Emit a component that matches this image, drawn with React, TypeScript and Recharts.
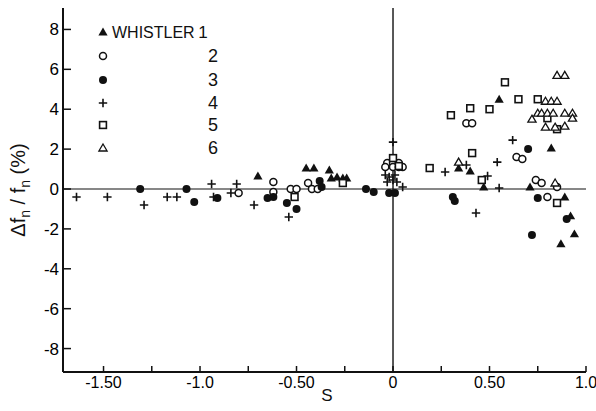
import React from 'react';
import { ScatterChart, Scatter, XAxis, YAxis, ReferenceLine, Legend } from 'recharts';

// Whistler 1 (filled triangles)
const whistler1 = [
  { x: -0.70, y: 0.65 }, { x: -0.45, y: 1.05 }, { x: -0.41, y: 1.05 }, { x: -0.33, y: 0.95 },
  { x: -0.32, y: 0.55 }, { x: -0.29, y: 0.6 }, { x: -0.26, y: 0.55 }, { x: -0.24, y: 0.55 },
  { x: 0.55, y: 4.5 }, { x: 0.34, y: 1.05 }, { x: 0.40, y: 0.9 }, { x: 0.47, y: 0.1 },
  { x: 0.71, y: 0.1 }, { x: 0.82, y: 2.05 }, { x: 0.89, y: -0.4 }, { x: 0.92, y: -1.35 },
  { x: 0.87, y: -2.75 }, { x: 0.94, y: -2.25 },
];
// Whistler 2 (open circles)
const whistler2 = [
  { x: -0.80, y: -0.2 }, { x: -0.62, y: 0.35 }, { x: -0.62, y: -0.15 }, { x: -0.53, y: 0 },
  { x: -0.50, y: 0 }, { x: -0.44, y: 0.3 }, { x: -0.42, y: 0 }, { x: -0.39, y: 0 },
  { x: -0.03, y: 1.3 }, { x: 0.0, y: 1.3 }, { x: 0.03, y: 1.3 }, { x: -0.04, y: 1.1 },
  { x: 0.0, y: 1.1 }, { x: 0.03, y: 1.1 }, { x: 0.05, y: 1.1 }, { x: 0.38, y: 3.3 },
  { x: 0.41, y: 3.3 }, { x: 0.64, y: 1.6 }, { x: 0.67, y: 1.5 }, { x: 0.74, y: 0.45 },
  { x: 0.77, y: 0.3 }, { x: 0.80, y: -0.4 }, { x: 0.85, y: 0.1 },
];
// Whistler 3 (filled circles)
const whistler3 = [
  { x: -1.31, y: 0 }, { x: -1.07, y: 0 }, { x: -1.03, y: -0.65 }, { x: -0.91, y: -0.45 },
  { x: -0.65, y: -0.45 }, { x: -0.62, y: -0.4 }, { x: -0.55, y: -0.7 }, { x: -0.50, y: -1.0 },
  { x: -0.38, y: 0.4 }, { x: -0.37, y: 0.1 }, { x: -0.14, y: 0 }, { x: -0.10, y: -0.15 },
  { x: -0.02, y: -0.2 }, { x: 0.01, y: -0.2 }, { x: 0.31, y: -0.4 }, { x: 0.32, y: -0.6 },
  { x: 0.70, y: 2.0 }, { x: 0.75, y: -0.45 }, { x: 0.90, y: -1.5 }, { x: 0.72, y: -2.3 },
];
// Whistler 4 (plus)
const whistler4 = [
  { x: -1.64, y: -0.4 }, { x: -1.48, y: -0.4 }, { x: -1.29, y: -0.8 }, { x: -1.17, y: -0.4 },
  { x: -1.12, y: -0.4 }, { x: -0.94, y: 0.25 }, { x: -0.93, y: -0.4 }, { x: -0.84, y: -0.2 },
  { x: -0.81, y: 0.25 }, { x: -0.72, y: -0.8 }, { x: -0.54, y: -1.4 }, { x: 0.0, y: 2.35 },
  { x: -0.04, y: 0.7 }, { x: -0.02, y: 0.6 }, { x: 0.01, y: 0.7 }, { x: -0.03, y: 0.35 },
  { x: 0.0, y: 0.45 }, { x: 0.02, y: 0.35 }, { x: 0.05, y: 0.1 }, { x: 0.27, y: 0.85 },
  { x: 0.38, y: 1.2 }, { x: 0.49, y: 0.65 }, { x: 0.55, y: 0.05 }, { x: 0.54, y: 1.35 },
  { x: 0.43, y: -1.2 }, { x: 0.62, y: 2.45 },
];
// Whistler 5 (open squares)
const whistler5 = [
  { x: -0.51, y: -0.4 }, { x: -0.26, y: 0.3 }, { x: 0.0, y: 1.55 }, { x: 0.03, y: 1.15 },
  { x: 0.19, y: 1.05 }, { x: 0.30, y: 3.7 }, { x: 0.40, y: 4.05 }, { x: 0.50, y: 4.0 },
  { x: 0.58, y: 5.35 }, { x: 0.65, y: 4.5 }, { x: 0.75, y: 4.5 }, { x: 0.80, y: 3.55 },
  { x: 0.85, y: 3.0 }, { x: 0.41, y: 1.8 }, { x: 0.46, y: 0.45 }, { x: 0.85, y: -0.7 },
];
// Whistler 6 (open triangles)
const whistler6 = [
  { x: 0.34, y: 1.35 }, { x: 0.79, y: 4.4 }, { x: 0.82, y: 4.4 }, { x: 0.85, y: 4.4 },
  { x: 0.85, y: 5.7 }, { x: 0.89, y: 5.7 }, { x: 0.75, y: 3.8 }, { x: 0.77, y: 3.8 },
  { x: 0.80, y: 3.8 }, { x: 0.83, y: 3.8 }, { x: 0.72, y: 3.5 }, { x: 0.89, y: 3.8 },
  { x: 0.93, y: 3.8 }, { x: 0.93, y: 3.55 }, { x: 0.79, y: 3.1 }, { x: 0.84, y: 3.1 },
  { x: 0.89, y: 3.15 }, { x: 0.84, y: 0.3 },
];

const xTicks = [-1.5, -1.25, -1, -0.75, -0.5, -0.25, 0, 0.25, 0.5, 0.75, 1.0];
const xTickLabels: Record<string, string> = {
  '-1.5': '-1.50', '-1': '-1.0', '-0.5': '-0.50', '0': '0', '0.5': '0.50', '1': '1.0',
};
const yTicks = [-8, -6, -4, -2, 0, 2, 4, 6, 8];

const legendNames = ['1', '2', '3', '4', '5', '6'];

const FONT = '"Liberation Sans", Arial, Helvetica, sans-serif';
const INK = '#111';

const PR = 586;
const PT = 8;
const PB = 372;
const PL = 63;

const TriFilled = (p: any) => {
  const { cx, cy } = p;
  if (cx == null || cy == null) return <g />;
  return <path d={`M${cx},${cy - 4.5} L${cx + 4.6},${cy + 3.4} L${cx - 4.6},${cy + 3.4} Z`} fill={INK} />;
};
const TriOpen = (p: any) => {
  const { cx, cy } = p;
  if (cx == null || cy == null) return <g />;
  return <path d={`M${cx},${cy - 4} L${cx + 4.1},${cy + 3} L${cx - 4.1},${cy + 3} Z`} fill="#fff" stroke={INK} strokeWidth={1.3} />;
};
const CircOpen = (p: any) => {
  const { cx, cy } = p;
  if (cx == null || cy == null) return <g />;
  return <circle cx={cx} cy={cy} r={3.5} fill="#fff" stroke={INK} strokeWidth={1.5} />;
};
const CircFilled = (p: any) => {
  const { cx, cy } = p;
  if (cx == null || cy == null) return <g />;
  return <circle cx={cx} cy={cy} r={4} fill={INK} />;
};
const Plus = (p: any) => {
  const { cx, cy } = p;
  if (cx == null || cy == null) return <g />;
  return <path d={`M${cx - 4.2},${cy} H${cx + 4.2} M${cx},${cy - 4.2} V${cy + 4.2}`} stroke={INK} strokeWidth={1.6} fill="none" />;
};
const SquareOpen = (p: any) => {
  const { cx, cy } = p;
  if (cx == null || cy == null) return <g />;
  return <rect x={cx - 3.4} y={cy - 3.4} width={6.8} height={6.8} fill="#fff" stroke={INK} strokeWidth={1.6} />;
};

const shapes = [TriFilled, CircOpen, CircFilled, Plus, SquareOpen, TriOpen];

const renderBottomTick = (p: any) => {
  const { x, payload } = p;
  const lab = xTickLabels[String(payload.value)];
  if (lab === undefined) return <g />;
  return (
    <text x={x} y={PB + 16} textAnchor="middle" fontFamily={FONT} fontSize={16} fill="#000">{lab}</text>
  );
};
const renderLeftTick = (p: any) => {
  const { y, payload } = p;
  return (
    <text x={PL - 4} y={y + 6} textAnchor="end" fontFamily={FONT} fontSize={17} fill="#000">{String(payload.value)}</text>
  );
};
const renderNoTick = () => <g />;

const YLabel = () => (
  <text
    x={25}
    y={190}
    transform="rotate(-90, 25, 190)"
    textAnchor="middle"
    fontFamily={FONT}
    fontSize={20}
    fill={INK}
  >
    <tspan>Δf</tspan>
    <tspan dy={5} fontSize={14}>n</tspan>
    <tspan dy={-5}> / f</tspan>
    <tspan dy={5} fontSize={14}>n</tspan>
    <tspan dy={-5}>  (%)</tspan>
  </text>
);
const XLabel = () => (
  <text x={327} y={401} textAnchor="middle" fontFamily={FONT} fontSize={17} fill={INK}>S</text>
);

const rowsY = [12, 36, 60, 83, 105, 128];
const LegendBox = () => (
  <svg width={150} height={140} style={{ overflow: 'visible', display: 'block' }}>
    {shapes.map((Sh, i) => (
      <g key={i}>
        <Sh cx={13} cy={rowsY[i]} />
        {i === 0 ? (
          <>
            <text x={22} y={rowsY[i] + 6} fontFamily={FONT} fontSize={16} fill={INK}>WHISTLER</text>
            <text x={113} y={rowsY[i] + 6} textAnchor="middle" fontFamily={FONT} fontSize={17} fill={INK}>1</text>
          </>
        ) : (
          <text x={123} y={rowsY[i] + 6} textAnchor="middle" fontFamily={FONT} fontSize={18} fill={INK}>{legendNames[i]}</text>
        )}
      </g>
    ))}
  </svg>
);

const series = [whistler1, whistler2, whistler3, whistler4, whistler5, whistler6];
const tickStroke = { stroke: INK, strokeWidth: 1.5 };
const axisStroke = { stroke: INK, strokeWidth: 2 };

export default function App() {
  return (
    <div style={{ position: 'absolute', left: 0, top: 0, width: 596, height: 411, background: '#fff' }}>
      <ScatterChart width={596} height={411} margin={{ top: PT, right: 596 - PR, bottom: 0, left: 0 }}>
        <XAxis
          xAxisId="b"
          type="number"
          dataKey="x"
          domain={[-1.71, 1.0]}
          allowDataOverflow
          ticks={xTicks}
          interval={0}
          height={411 - PB}
          orientation="bottom"
          axisLine={axisStroke}
          tickLine={tickStroke}
          tickSize={-6}
          tickMargin={10}
          tick={renderBottomTick}
          label={{ content: <XLabel /> } as any}
        />
        <XAxis
          xAxisId="t"
          type="number"
          dataKey="x"
          domain={[-1.71, 1.0]}
          allowDataOverflow
          ticks={xTicks}
          interval={0}
          height={0}
          orientation="top"
          axisLine={axisStroke}
          tickLine={tickStroke}
          tickSize={-5}
          tick={renderNoTick}
        />
        <YAxis
          yAxisId="l"
          type="number"
          dataKey="y"
          domain={[-9.175, 9.075]}
          allowDataOverflow
          ticks={yTicks}
          interval={0}
          width={PL}
          orientation="left"
          axisLine={axisStroke}
          tickLine={tickStroke}
          tickSize={-8}
          tickMargin={12}
          tick={renderLeftTick}
          label={{ content: <YLabel /> } as any}
        />
        <YAxis
          yAxisId="r"
          type="number"
          dataKey="y"
          domain={[-9.175, 9.075]}
          allowDataOverflow
          ticks={yTicks}
          interval={0}
          width={0}
          orientation="right"
          axisLine={axisStroke}
          tickLine={tickStroke}
          tickSize={-5}
          tick={renderNoTick}
        />
        <ReferenceLine xAxisId="b" yAxisId="l" y={0} stroke={INK} strokeWidth={1.2} />
        <ReferenceLine xAxisId="b" yAxisId="l" x={0} stroke={INK} strokeWidth={1.4} />
        <Legend
          layout="vertical"
          align="center"
          verticalAlign="middle"
          content={<LegendBox />}
          wrapperStyle={{ left: 90, top: 20, width: 150, height: 140 }}
        />
        {series.map((d, i) => (
          <Scatter
            key={i}
            name={`Whistler ${legendNames[i]}`}
            xAxisId="b"
            yAxisId="l"
            data={d}
            shape={shapes[i]}
            isAnimationActive={false}
          />
        ))}
      </ScatterChart>
    </div>
  );
}
